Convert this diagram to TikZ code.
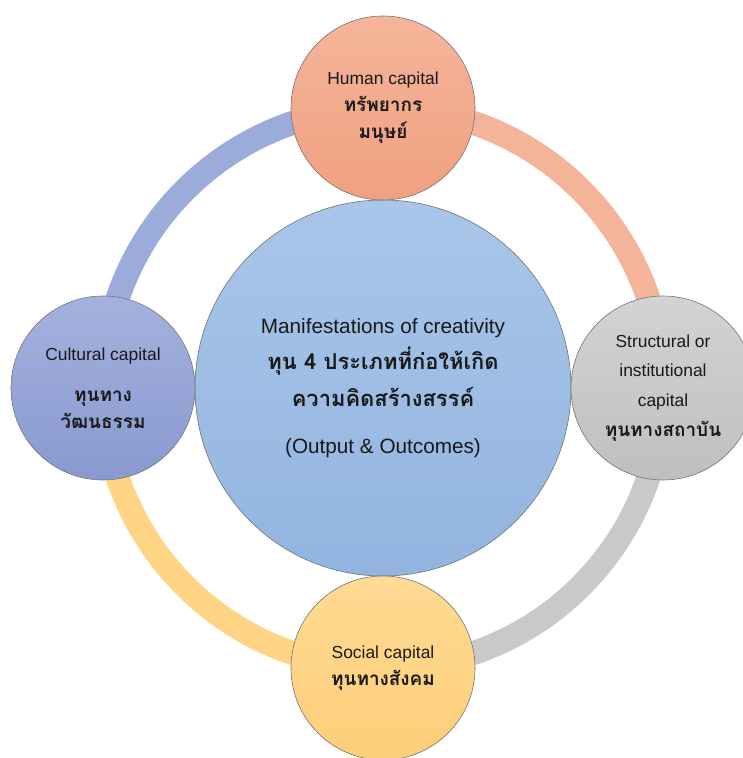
\documentclass[tikz,border=0pt]{standalone}
\usepackage{fontspec}
\setmainfont{Liberation Sans}
\newfontfamily\thaifont[Script=Thai]{Loma}
\usepackage{tikz}
\usetikzlibrary{backgrounds}

\definecolor{midtop}{HTML}{A9C6E9}
\definecolor{midbot}{HTML}{92B4E0}
\definecolor{humtop}{HTML}{F5B59A}
\definecolor{humbot}{HTML}{F0A080}
\definecolor{cultop}{HTML}{A5B2DE}
\definecolor{culbot}{HTML}{8899D0}
\definecolor{strtop}{HTML}{D3D3D3}
\definecolor{strbot}{HTML}{BFBFBF}
\definecolor{soctop}{HTML}{FFDA94}
\definecolor{socbot}{HTML}{FDCE78}
\definecolor{culring}{HTML}{9BACDA}
\definecolor{humring}{HTML}{F4B49A}
\definecolor{strring}{HTML}{C9C9C9}
\definecolor{socring}{HTML}{FFD585}

\newcommand\thaitext[2][19]{{\thaifont\bfseries\fontsize{#1}{27}\selectfont #2}}

\begin{document}
\begin{tikzpicture}[x=1bp,y=1bp,
  capital/.style={circle,draw=black!55,line width=0.6bp,minimum size=184bp,
    inner sep=0pt,align=center,text=black!90,font=\fontsize{17.5}{27}\selectfont},
  ring/.style={line width=24bp}]
  \useasboundingbox (0,0) rectangle (743,758);

  \node[capital,minimum size=376bp,top color=midtop,bottom color=midbot,
    font=\fontsize{20.8}{37}\selectfont] (mid) at (383,370)
    {Manifestations of creativity\\ \thaitext[22]{ทุน 4 ประเภทที่ก่อให้เกิด}\\
     \thaitext[22]{ความคิดสร้างสรรค์}\\[10pt] (Output \& Outcomes)};

  \node[capital,top color=humtop,bottom color=humbot] (hum) at (383,650)
    {Human capital\\ \thaitext{ทรัพยากร}\\ \thaitext{มนุษย์}};
  \node[capital,top color=cultop,bottom color=culbot] (cul) at (103,370)
    {Cultural capital\\[14pt] \thaitext{ทุนทาง}\\ \thaitext{วัฒนธรรม}};
  \node[capital,top color=strtop,bottom color=strbot,font=\fontsize{17.5}{30}\selectfont] (str) at (663,370)
    {Structural or\\ institutional\\ capital\\ \thaitext{ทุนทางสถาบัน}};
  \node[capital,top color=soctop,bottom color=socbot] (soc) at (383,90)
    {Social capital\\ \thaitext{ทุนทางสังคม}};

  \begin{scope}[on background layer]
    \draw[ring,culring] (cul.center) arc[start angle=180,end angle=90,radius=280bp];
    \draw[ring,humring] (hum.center) arc[start angle=90,end angle=0,radius=280bp];
    \draw[ring,strring] (str.center) arc[start angle=0,end angle=-90,radius=280bp];
    \draw[ring,socring] (soc.center) arc[start angle=270,end angle=180,radius=280bp];
  \end{scope}
\end{tikzpicture}
\end{document}
